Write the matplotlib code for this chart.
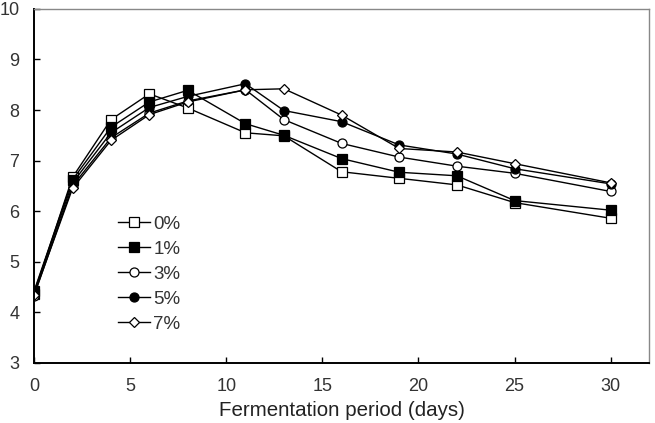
import matplotlib
matplotlib.use('Agg')
from matplotlib import pyplot as plt

days = [0, 2, 4, 6, 8, 11, 13, 16, 19, 22, 25, 30]
labels = ['0%', '1%', '3%', '5%', '7%']
ph_0 = [4.37, 6.67, 7.81, 8.32, 8.04, 7.55, 7.49, 6.78, 6.65, 6.52, 6.17, 5.86]
ph_1 = [4.42, 6.62, 7.66, 8.16, 8.39, 7.73, 7.50, 7.04, 6.77, 6.70, 6.21, 6.02]
ph_3 = [4.33, 6.50, 7.45, 7.94, 8.18, 8.40, 7.81, 7.34, 7.07, 6.89, 6.75, 6.39]
ph_5 = [4.40, 6.56, 7.55, 8.05, 8.27, 8.52, 7.99, 7.77, 7.31, 7.13, 6.84, 6.54]
ph_7 = [4.35, 6.45, 7.40, 7.91, 8.16, 8.40, 8.42, 7.90, 7.24, 7.17, 6.94, 6.56]

plt.rcParams['font.family'] = ['Liberation Sans', 'DejaVu Sans']

fig = plt.figure(figsize=(6.55, 4.23), dpi=100)
ax = fig.add_axes([0.052, 0.142, 0.939, 0.837])

styles = [
    dict(marker='s', mfc='white', ms=6.5),
    dict(marker='s', mfc='black', ms=6.5),
    dict(marker='o', mfc='white', ms=6.5),
    dict(marker='o', mfc='black', ms=6.5),
    dict(marker='D', mfc='white', ms=4.8),
]
for vals, lab, st in zip([ph_0, ph_1, ph_3, ph_5, ph_7], labels, styles):
    ax.plot(days, vals, color='black', lw=1, mec='black', mew=0.9, label=lab, **st)

ax.set_xlim(0, 32)
ax.set_ylim(3, 10)
ax.set_xticks([0, 5, 10, 15, 20, 25, 30])
ax.set_yticks(range(3, 11))
ax.tick_params(direction='in', length=4, width=1, labelsize=13, labelcolor='#333333')
ax.tick_params(axis='x', pad=11)
ax.tick_params(axis='y', pad=10.5)
ax.set_xlabel('Fermentation period (days)', fontsize=14.8, labelpad=4, color='#222222')

for side in ['left', 'bottom']:
    ax.spines[side].set_linewidth(1.4)
for side in ['top', 'right']:
    ax.spines[side].set_color('#888888')
    ax.spines[side].set_linewidth(1)

leg = ax.legend(loc='upper left', bbox_to_anchor=(0.125, 0.437), frameon=False, fontsize=13.5,
                handlelength=1.7, handletextpad=0.15, labelspacing=0.42, borderaxespad=0)
for t in leg.get_texts():
    t.set_color('#333333')

fig.savefig('out.png', dpi=100)
